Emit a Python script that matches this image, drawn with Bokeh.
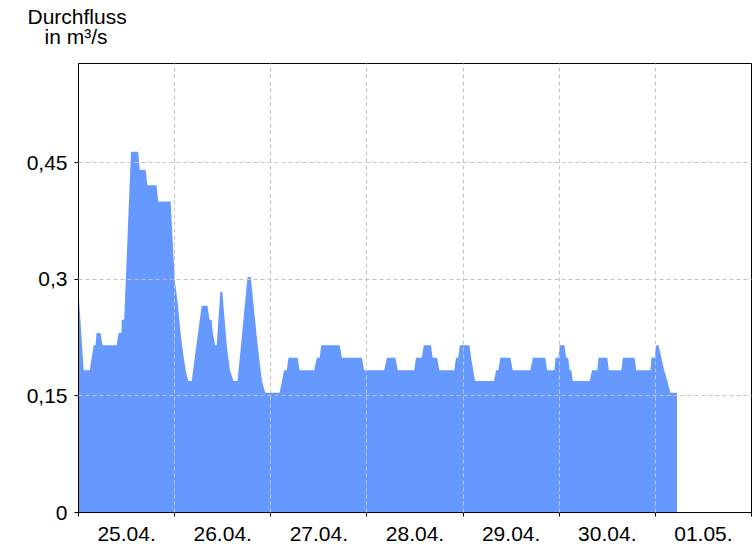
from bokeh.plotting import figure
from bokeh.models import FixedTicker, Title
from bokeh.embed import file_html
from bokeh.resources import INLINE

# hours since 25.04. 00:00
hours = [0, 1.3, 2.8, 3.8, 4.25, 4.5, 5.5, 6.0, 9.5, 10.0, 10.7, 10.8, 11.4,
         13.1, 14.9, 15.3, 16.75, 17.2, 19.5, 19.9, 23.0,
         24.0, 24.75, 25.5, 26.25, 26.75, 27.4, 28.25, 30.75, 32.2, 32.7, 33.2,
         33.5, 34.1, 34.5, 35.4, 35.9, 37.0, 37.8, 38.7, 39.7, 42.2, 43.0,
         44.5, 45.75, 46.6, 50.2, 50.75, 51.3, 52.0, 52.4, 54.7, 55.2, 58.8,
         59.5, 60.2, 60.6, 65.2, 65.75, 70.75, 71.3, 76.3, 77.0, 79.1, 79.7,
         83.8, 84.25, 85.7, 86.2, 88.0, 88.4, 89.5, 90.1, 93.8, 94.25, 94.8,
         95.2, 97.6, 98.0, 99.0, 103.7, 104.25, 104.8, 105.3, 107.8, 108.4,
         112.8, 113.4, 116.5, 117.0, 118.8, 119.1, 119.8, 120.1, 121.3, 121.75,
         122.25, 122.6, 123.0, 123.4, 127.6, 128.2, 129.5, 129.8, 132.0, 132.4,
         135.5, 135.9, 138.8, 139.25, 142.8, 143.0, 143.8, 144.25, 144.8,
         145.5, 146.2, 147.0, 147.75, 149.4]
flow = [0.285, 0.183, 0.183, 0.215, 0.215, 0.231, 0.231, 0.215, 0.215, 0.231, 0.231, 0.248, 0.248,
        0.464, 0.464, 0.441, 0.441, 0.421, 0.421, 0.400, 0.400,
        0.300, 0.270, 0.230, 0.200, 0.183, 0.169, 0.169, 0.266, 0.266, 0.248, 0.248,
        0.232, 0.215, 0.215, 0.284, 0.284, 0.215, 0.183, 0.169, 0.169, 0.303, 0.303,
        0.226, 0.170, 0.154, 0.154, 0.168, 0.183, 0.183, 0.199, 0.199, 0.183, 0.183,
        0.199, 0.199, 0.215, 0.215, 0.199, 0.199, 0.183, 0.183, 0.199, 0.199, 0.183,
        0.183, 0.199, 0.199, 0.215, 0.215, 0.199, 0.199, 0.183, 0.183, 0.199, 0.199,
        0.215, 0.215, 0.199, 0.169, 0.169, 0.183, 0.183, 0.199, 0.199, 0.183,
        0.183, 0.199, 0.199, 0.183, 0.183, 0.199, 0.199, 0.215, 0.215, 0.199,
        0.199, 0.183, 0.183, 0.169, 0.169, 0.183, 0.183, 0.199, 0.199, 0.183,
        0.183, 0.199, 0.199, 0.183, 0.183, 0.199, 0.199, 0.215, 0.215,
        0.199, 0.183, 0.169, 0.154, 0.154]

day_labels = ["25.04.", "26.04.", "27.04.", "28.04.", "29.04.", "30.04.", "01.05."]
y_ticks = [0, 0.15, 0.3, 0.45]
y_tick_labels = ["0", "0,15", "0,3", "0,45"]
title_lines = ["Durchfluss", "in m³/s"]

FONT = "Liberation Sans"
FS = "21px"
X_END, Y_END = 168, 0.5775
FW, FH = 673, 449

p = figure(frame_width=FW, frame_height=FH, x_range=(0, X_END), y_range=(0, Y_END),
           output_backend="svg", toolbar_location=None,
           min_border_left=78, min_border_right=5, min_border_top=63, min_border_bottom=30,
           background_fill_color="white", border_fill_color="white")
p.outline_line_color = "black"
p.outline_line_width = 1

p.varea(x=hours, y1=0, y2=flow, fill_color="#6699ff")

noon = [12 + 24 * i for i in range(len(day_labels))]
midnight = [24 * i for i in range(len(day_labels) + 1)]

xa = p.xaxis[0]
xa.ticker = FixedTicker(ticks=noon, minor_ticks=midnight)
xa.major_label_overrides = {t: lab for t, lab in zip(noon, day_labels)}
xa.major_tick_out = 0
xa.major_tick_in = 0
xa.minor_tick_out = 4
xa.minor_tick_in = 0
xa.minor_tick_line_color = "black"
xa.major_label_standoff = 10
xa.major_label_text_font = FONT
xa.major_label_text_font_size = FS
xa.major_label_text_color = "black"
xa.axis_line_color = "black"

ya = p.yaxis[0]
ya.ticker = FixedTicker(ticks=y_ticks)
ya.major_label_overrides = {t: lab for t, lab in zip(y_ticks, y_tick_labels)}
ya.major_tick_out = 4
ya.major_tick_in = 0
ya.minor_tick_line_color = None
ya.major_label_standoff = 7
ya.major_label_text_font = FONT
ya.major_label_text_font_size = FS
ya.major_label_text_color = "black"
ya.axis_line_color = "black"

p.xgrid.ticker = FixedTicker(ticks=midnight[1:-1])
p.ygrid.ticker = FixedTicker(ticks=y_ticks[1:])
for g in (p.xgrid[0], p.ygrid[0]):
    g.grid_line_color = "#c4c4c4"
    g.grid_line_dash = "4 3"
    g.grid_line_width = 1
    g.level = "overlay"

title_style = dict(text_font=FONT, text_font_size=FS, text_font_style="normal",
                   text_color="black")

# second title line: tighter line spacing via a negative standoff if allowed
try:
    t_second = Title(text=title_lines[1], align="left", offset=-34, standoff=-9,
                     vertical_align="bottom", **title_style)
    spacer_standoff = 17
except Exception:
    t_second = Title(text=title_lines[1], align="left", offset=-34, standoff=0,
                     vertical_align="top", **title_style)
    spacer_standoff = 8

# small blank spacer panel between the frame and the two title lines
p.add_layout(Title(text=" ", text_font=FONT, text_font_size="1px",
                   standoff=spacer_standoff, text_font_style="normal"), "above")
p.add_layout(t_second, "above")
p.add_layout(Title(text=title_lines[0], align="left", offset=-51, standoff=0,
                   vertical_align="bottom", **title_style), "above")

open("out.html", "w").write(file_html(p, INLINE))
